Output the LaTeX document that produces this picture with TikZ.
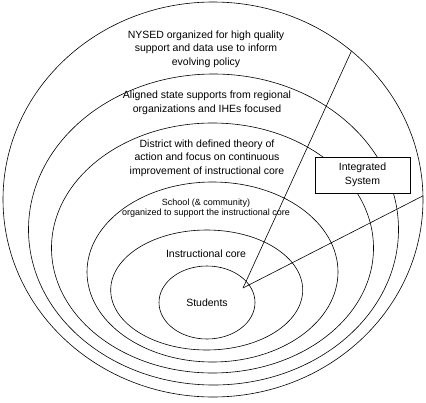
\documentclass[tikz,border=0pt]{standalone}
\usepackage{fontspec}
\setmainfont{Liberation Sans}
\usetikzlibrary{shapes.geometric}

\begin{document}
\begin{tikzpicture}[x=1pt,y=-1pt,ring/.style={ellipse,draw=black,line width=0.6pt,inner sep=0pt,outer sep=0pt,font=\fontsize{10.5pt}{13.5pt}\selectfont},lbl/.style={align=center,inner sep=0pt,font=\fontsize{10.5pt}{13.5pt}\selectfont},small/.style={lbl,font=\fontsize{9pt}{10.5pt}\selectfont},link/.style={draw=black,line width=0.6pt},sysbox/.style={lbl,draw=black,fill=white,line width=0.6pt,minimum width=95pt,minimum height=36pt}]
\useasboundingbox (0,0) rectangle (426,402);
\node[ring,minimum width=420pt,minimum height=395pt] (n0) at (213,199.5) {};
\node[ring,minimum width=370pt,minimum height=311pt] (n1) at (213.5,229.5) {};
\node[ring,minimum width=322pt,minimum height=250pt] (n2) at (212.5,248) {};
\node[ring,minimum width=251pt,minimum height=180pt] (n3) at (212.5,272) {};
\node[ring,minimum width=192pt,minimum height=120pt] (n4) at (206.7,290) {};
\node[ring,minimum width=96pt,minimum height=73pt] (n5) at (207,302.5) {Students};
\node[lbl] (t0) at (206,49) {NYSED organized for high quality\\support and data use to inform\\evolving policy};
\node[lbl] (t1) at (207,103) {Aligned state supports from regional\\organizations and IHEs focused};
\node[lbl] (t2) at (207,158) {District with defined theory of\\action and focus on continuous\\improvement of instructional core};
\node[small] (t3) at (206,208) {School (\& community)\\organized to support the instructional core};
\node[lbl] (t4) at (206,254) {Instructional core};
\coordinate (tip) at (243,288);
\draw[link] (n0.47.5) -- (tip);
\draw[link] (n0.1.8) -- (tip);
\node[sysbox] (n6) at (362.5,175) {Integrated\\System};
\end{tikzpicture}
\end{document}
